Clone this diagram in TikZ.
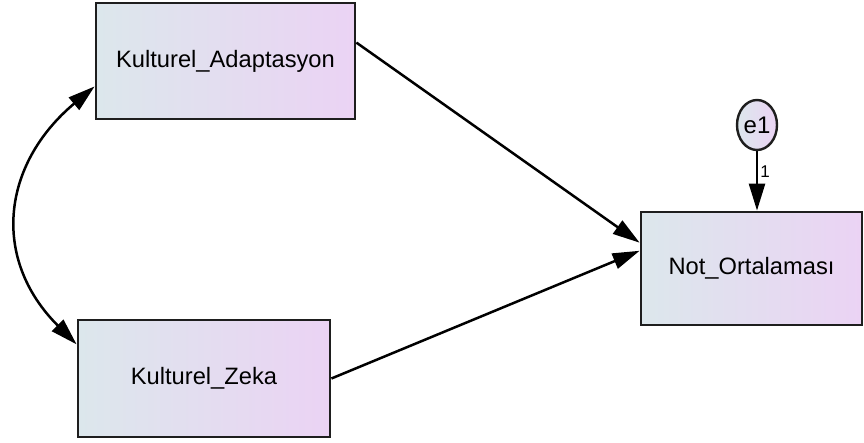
\documentclass[tikz,border=0pt]{standalone}
\usepackage{fontspec}
\setmainfont{Liberation Sans}
\usepackage{tikz}
\usetikzlibrary{positioning,arrows.meta,shapes.geometric}

\definecolor{boxleft}{RGB}{220,231,236}
\definecolor{boxright}{RGB}{235,211,244}
\definecolor{boxline}{RGB}{30,30,30}

\tikzset{
  obs/.style={rectangle,draw=boxline,line width=2.8pt,left color=boxleft,right color=boxright,
    font=\fontsize{23.7}{28}\selectfont,inner sep=0pt},
  err/.style={ellipse,draw=boxline,line width=2.4pt,left color=boxleft,right color=boxright,
    font=\fontsize{24}{28}\selectfont,inner sep=0pt,minimum width=40pt,minimum height=50pt},
  path/.style={line width=2.5pt,-{Triangle[length=27pt,width=16pt]}}
}

\begin{document}
\begin{tikzpicture}[x=1pt,y=1pt]
  \useasboundingbox (0,0) rectangle (864,-442);
  \node[obs,minimum width=259pt,minimum height=116pt] (v_adapt) at (225.5,-61)  {Kulturel\_Adaptasyon};
  \node[obs,minimum width=252pt,minimum height=117pt] (v_zeka)  at (204,-378.5) {Kulturel\_Zeka};
  \node[obs,minimum width=221pt,minimum height=113pt] (v_not)   at (751.5,-268.5) {Not\_Ortalaması};
  \node[err] (e_1) at (757,-125) {e1};
  \path[path] (v_adapt.8)   edge (v_not.167)
              (v_zeka.east) edge (v_not.171.5)
              (e_1.south)   edge node [right,pos=0.35,inner sep=2pt,font=\fontsize{17}{19}\selectfont] {1} (e_1.south |- v_not.north);
  \draw[line width=2.5pt,{Triangle[length=27pt,width=16pt]}-{Triangle[length=27pt,width=16pt]}]
    (v_adapt.191.4) to[out=220,in=135,looseness=1.2] (v_zeka.165.1);
\end{tikzpicture}
\end{document}
